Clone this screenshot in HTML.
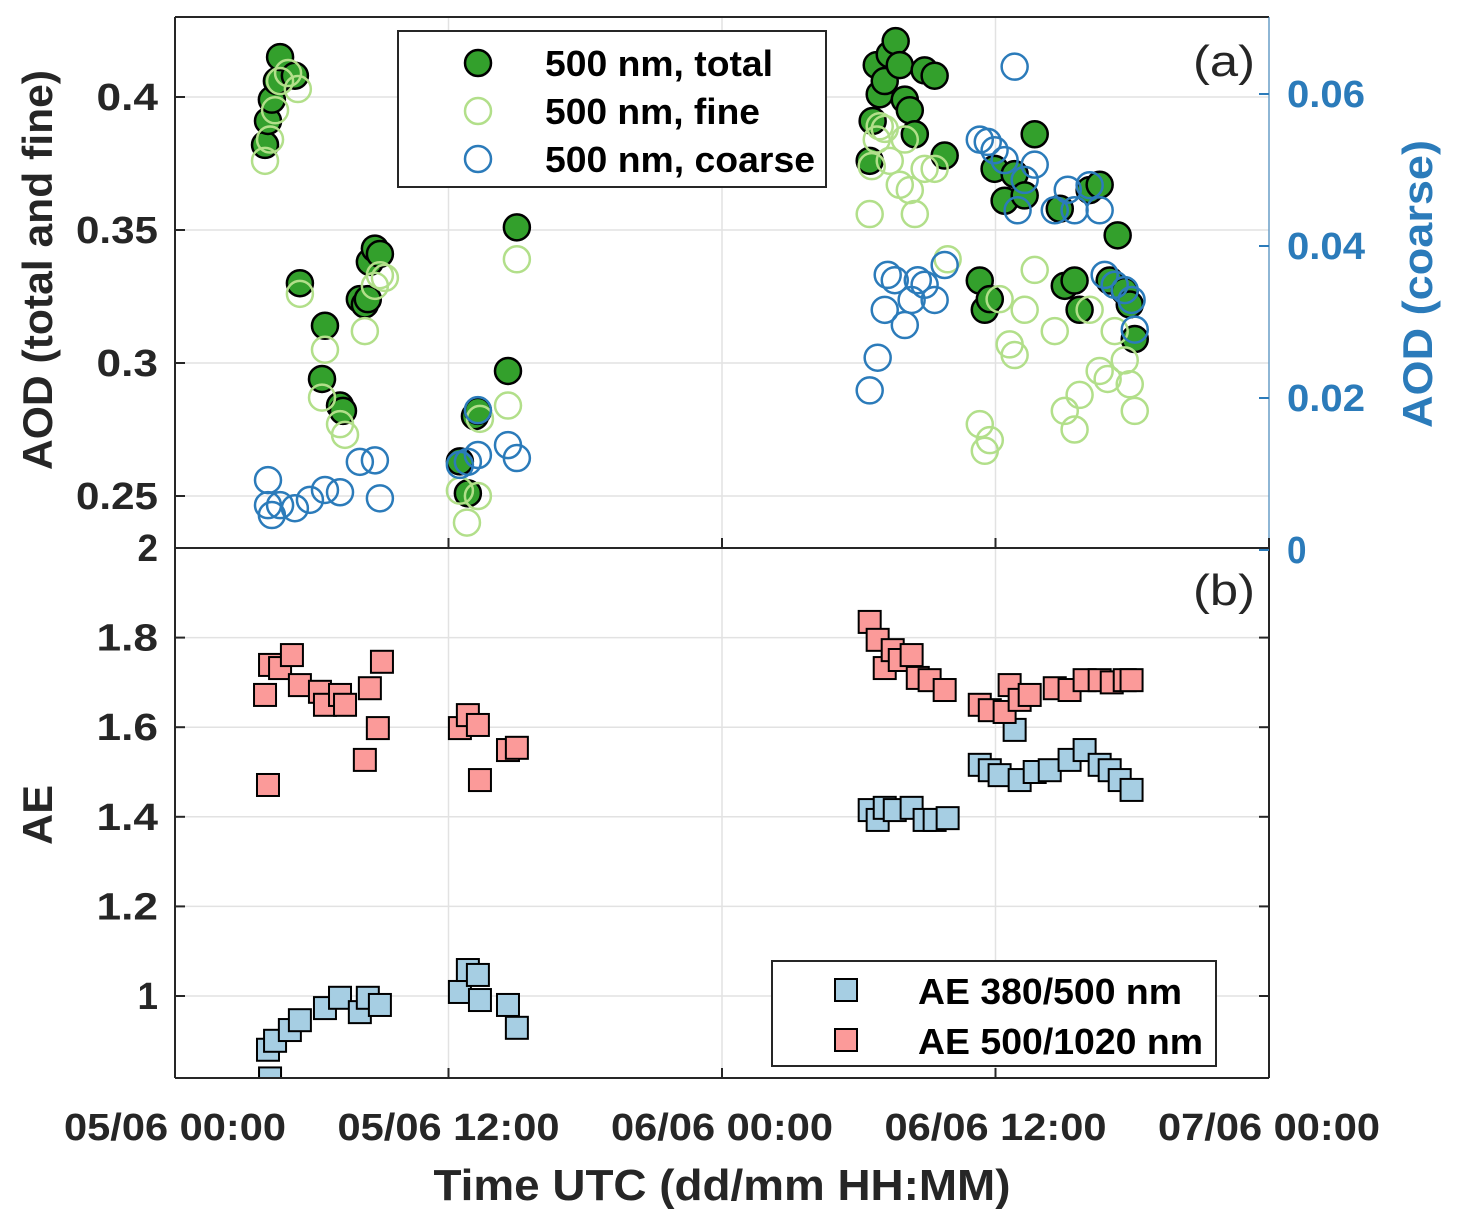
<!DOCTYPE html>
<html><head><meta charset="utf-8"><style>
body{margin:0;background:#fff}
svg text{font-family:"Liberation Sans",Arial,sans-serif}
</style></head><body>
<svg id="chart" width="1457" height="1224" xmlns="http://www.w3.org/2000/svg"></svg>
<script>
// Data (time in hours since 05/06 00:00 UTC)
const totalT=[3.95,4.08,4.25,4.47,4.61,5.26,5.48,6.58,6.45,7.24,7.37,8.11,8.33,8.55,8.77,8.99,8.46,12.5,12.85,13.16,13.29,14.61,15.0,30.48,30.61,30.79,30.92,31.14,31.36,31.62,31.8,32.02,32.24,32.46,32.89,33.33,33.77,35.31,35.53,35.75,35.96,36.4,36.84,37.28,37.72,38.82,39.04,39.47,39.69,40.13,40.57,41.01,41.36,41.67,41.89,42.11];
const totalV=[0.382,0.391,0.399,0.406,0.415,0.408,0.330,0.314,0.294,0.284,0.282,0.324,0.322,0.338,0.343,0.341,0.324,0.263,0.251,0.280,0.282,0.297,0.351,0.376,0.391,0.412,0.401,0.406,0.416,0.421,0.412,0.399,0.395,0.386,0.410,0.408,0.378,0.331,0.320,0.324,0.373,0.361,0.371,0.363,0.386,0.358,0.329,0.331,0.320,0.365,0.367,0.331,0.348,0.327,0.322,0.309];
const fineT=[3.95,4.17,4.39,4.61,4.96,5.39,5.48,6.58,6.45,7.24,7.46,8.33,8.77,8.99,9.21,12.5,12.81,13.29,13.38,14.61,15.0,30.48,30.57,30.79,30.92,31.14,31.36,31.8,32.02,32.24,32.46,32.89,33.33,33.9,35.31,35.53,35.75,36.18,36.62,36.84,37.28,37.72,38.6,39.04,39.47,39.69,40.13,40.57,40.92,41.23,41.67,41.89,42.11];
const fineV=[0.376,0.384,0.395,0.406,0.409,0.403,0.326,0.305,0.287,0.277,0.273,0.312,0.329,0.333,0.332,0.252,0.240,0.250,0.279,0.284,0.339,0.356,0.374,0.384,0.389,0.388,0.376,0.367,0.384,0.365,0.356,0.373,0.373,0.339,0.277,0.267,0.271,0.324,0.307,0.303,0.320,0.335,0.312,0.282,0.275,0.288,0.320,0.297,0.294,0.312,0.301,0.292,0.282];
const coarseT=[4.08,4.08,4.25,4.61,5.26,5.92,6.58,7.24,8.11,8.77,8.99,12.5,12.85,13.29,13.29,14.61,15.0,30.48,30.83,31.14,31.27,31.58,32.02,32.32,32.59,32.89,33.33,33.77,35.31,35.66,35.96,36.4,36.84,36.97,37.28,37.72,38.6,39.17,39.47,40.13,40.57,40.79,41.23,41.67,41.97,42.11];
const coarseV=[0.0092,0.0059,0.0046,0.0059,0.0055,0.0066,0.0079,0.0076,0.0116,0.0118,0.0068,0.0112,0.0116,0.0125,0.0184,0.0138,0.0121,0.021,0.0253,0.0316,0.0362,0.0355,0.0296,0.0329,0.0355,0.0349,0.0329,0.0375,0.054,0.0537,0.0526,0.0513,0.0636,0.0447,0.0487,0.0507,0.0447,0.0474,0.0447,0.048,0.0447,0.0362,0.0349,0.0342,0.0329,0.029];
const ae1T=[4.08,4.17,4.39,5.04,5.48,6.58,7.24,8.11,8.46,8.99,12.5,12.85,13.29,13.38,14.61,15.0,30.48,30.83,31.14,31.58,32.32,32.89,33.33,33.9,35.31,35.75,36.18,36.84,37.06,37.72,38.38,39.25,39.91,40.57,41.01,41.45,41.97];
const ae1V=[0.88,0.816,0.90,0.924,0.946,0.973,0.996,0.964,0.996,0.98,1.009,1.058,1.047,0.991,0.98,0.929,1.415,1.393,1.42,1.415,1.42,1.393,1.393,1.397,1.516,1.504,1.493,1.594,1.482,1.5,1.504,1.527,1.549,1.516,1.504,1.482,1.46];
const ae2T=[3.95,4.08,4.17,4.61,5.13,5.48,6.36,6.58,7.24,7.46,8.33,8.55,8.9,9.08,12.5,12.85,13.29,13.38,14.61,15.0,30.48,30.83,31.14,31.49,31.8,32.32,32.59,33.11,33.77,35.31,35.75,36.4,36.62,37.06,37.5,38.6,39.25,39.91,40.57,41.1,41.67,41.97];
const ae2V=[1.672,1.471,1.739,1.732,1.761,1.694,1.679,1.65,1.672,1.65,1.527,1.687,1.598,1.746,1.598,1.627,1.605,1.482,1.549,1.554,1.835,1.795,1.732,1.772,1.75,1.761,1.71,1.705,1.683,1.65,1.638,1.634,1.694,1.661,1.672,1.687,1.683,1.705,1.705,1.7,1.705,1.705];
const xTickLabels=["05/06 00:00","05/06 12:00","06/06 00:00","06/06 12:00","07/06 00:00"];
const xTickHours=[0,12,24,36,48];
const yTopTicks=[0.25,0.3,0.35,0.4];
const yRightTicks=[0,0.02,0.04,0.06];
const yBotTicks=[1,1.2,1.4,1.6,1.8,2];

const L=175,R=1269,T1=17,B1=548,T2=548,B2=1078;
const xS=h=>L+h*(R-L)/48;
const yTop=v=>97+(0.4-v)*2660;
const yRight=v=>550-v*7600;
const yBot=v=>548+(2-v)*448;
const NS="http://www.w3.org/2000/svg";
const svg=document.getElementById('chart');
function mk(tag,attrs,parent){const e=document.createElementNS(NS,tag);for(const k in attrs)e.setAttribute(k,attrs[k]);(parent||svg).appendChild(e);return e;}
function txt(s,attrs){const e=mk('text',attrs);e.textContent=s;return e;}

const grid=mk('g',{stroke:'#e2e2e2','stroke-width':1.5});


xTickHours.forEach(h=>{mk('line',{x1:xS(h),x2:xS(h),y1:T1,y2:B2},grid);});
yTopTicks.forEach(v=>mk('line',{x1:L,x2:R,y1:yTop(v),y2:yTop(v)},grid));
yBotTicks.forEach(v=>mk('line',{x1:L,x2:R,y1:yBot(v),y2:yBot(v)},grid));

const defs=mk('defs',{});
const c1=mk('clipPath',{id:'c1'},defs);mk('rect',{x:L,y:T1,width:R-L,height:B1-T1},c1);
const c2=mk('clipPath',{id:'c2'},defs);mk('rect',{x:L,y:T2,width:R-L,height:B2-T2},c2);

const gT=mk('g',{'clip-path':'url(#c1)'});


totalT.forEach((t,i)=>{const c=mk('circle',{cx:xS(t),cy:yTop(totalV[i]),r:13,fill:'#33a02c',stroke:'#000','stroke-width':2.5},gT);

});
fineT.forEach((t,i)=>{const c=mk('circle',{cx:xS(t),cy:yTop(fineV[i]),r:13,fill:'none',stroke:'#b2df8a','stroke-width':2.5},gT);

});
coarseT.forEach((t,i)=>{const c=mk('circle',{cx:xS(t),cy:yRight(coarseV[i]),r:13,fill:'none',stroke:'#2b7bba','stroke-width':2.5},gT);

});

const gB=mk('g',{'clip-path':'url(#c2)'});


ae1T.forEach((t,i)=>{const r=mk('rect',{x:xS(t)-11,y:yBot(ae1V[i])-11,width:22,height:22,fill:'#a6cee3',stroke:'#000','stroke-width':2},gB);

});
ae2T.forEach((t,i)=>{const r=mk('rect',{x:xS(t)-11,y:yBot(ae2V[i])-11,width:22,height:22,fill:'#fb9a99',stroke:'#000','stroke-width':2},gB);

});

const ax=mk('g',{stroke:'#262626','stroke-width':2,fill:'none'});


mk('line',{x1:L,x2:R,y1:T1,y2:T1},ax);
mk('line',{x1:L,x2:L,y1:T1,y2:B2},ax);
mk('line',{x1:L,x2:R,y1:B1,y2:B1},ax);
mk('line',{x1:L,x2:R,y1:B2,y2:B2},ax);
mk('line',{x1:R,x2:R,y1:T2,y2:B2},ax);
mk('line',{x1:R,x2:R,y1:T1,y2:B1,stroke:'#2b7bba'});

xTickHours.forEach((h,i)=>{
 mk('line',{x1:xS(h),x2:xS(h),y1:B2,y2:B2-10,stroke:'#262626','stroke-width':2});
 mk('line',{x1:xS(h),x2:xS(h),y1:B1,y2:B1-10,stroke:'#262626','stroke-width':2});
 const t=txt(xTickLabels[i],{x:xS(h),y:1140,'text-anchor':'middle','font-size':38,'font-weight':'bold',fill:'#262626',textLength:222,lengthAdjust:'spacingAndGlyphs'});
 
 
});
yTopTicks.forEach(v=>{
 mk('line',{x1:L,x2:L+10,y1:yTop(v),y2:yTop(v),stroke:'#262626','stroke-width':2});
 const s=String(v);
 const t=txt(s,{x:158,y:yTop(v)+13,'text-anchor':'end','font-size':38,'font-weight':'bold',fill:'#262626',textLength:s.length*20.5,lengthAdjust:'spacingAndGlyphs'});
 
 
});
yRightTicks.forEach(v=>{
 mk('line',{x1:R,x2:R-10,y1:yRight(v),y2:yRight(v),stroke:'#2b7bba','stroke-width':2});
 const s=String(v);
 const t=txt(s,{x:1287,y:yRight(v)+13,'font-size':38,'font-weight':'bold',fill:'#2b7bba',textLength:s.length*19.5,lengthAdjust:'spacingAndGlyphs'});
 
 
});
yBotTicks.forEach(v=>{
 mk('line',{x1:L,x2:L+10,y1:yBot(v),y2:yBot(v),stroke:'#262626','stroke-width':2});
 mk('line',{x1:R,x2:R-10,y1:yBot(v),y2:yBot(v),stroke:'#262626','stroke-width':2});
 const s=String(v);
 const t=txt(s,{x:158,y:yBot(v)+13,'text-anchor':'end','font-size':38,'font-weight':'bold',fill:'#262626',textLength:s.length*20.5,lengthAdjust:'spacingAndGlyphs'});
 
 
});
</script>
<svg style="position:absolute;left:0;top:0" width="1457" height="1224" xmlns="http://www.w3.org/2000/svg">
<text x="722" y="1200" text-anchor="middle" font-size="44" font-weight="bold" fill="#262626" font-family="Liberation Sans, sans-serif" textLength="577" lengthAdjust="spacingAndGlyphs">Time UTC (dd/mm HH:MM)</text>
<text transform="translate(52,270) rotate(-90)" text-anchor="middle" font-size="42" font-weight="bold" fill="#262626" font-family="Liberation Sans, sans-serif" textLength="400" lengthAdjust="spacingAndGlyphs">AOD (total and fine)</text>
<text transform="translate(52,815) rotate(-90)" text-anchor="middle" font-size="42" font-weight="bold" fill="#262626" font-family="Liberation Sans, sans-serif" textLength="60" lengthAdjust="spacingAndGlyphs">AE</text>
<text transform="translate(1432,284) rotate(-90)" text-anchor="middle" font-size="42" font-weight="bold" fill="#2b7bba" font-family="Liberation Sans, sans-serif" textLength="288" lengthAdjust="spacingAndGlyphs">AOD (coarse)</text>
<text x="1193" y="76" font-size="44" fill="#262626" font-family="Liberation Sans, sans-serif" textLength="62" lengthAdjust="spacingAndGlyphs">(a)</text>
<text x="1193" y="605" font-size="44" fill="#262626" font-family="Liberation Sans, sans-serif" textLength="62" lengthAdjust="spacingAndGlyphs">(b)</text>
<g font-family="Liberation Sans, sans-serif" font-size="36" font-weight="bold" fill="#000">
<rect x="398" y="31" width="428" height="156" fill="#fff" stroke="#262626" stroke-width="2"/>
<circle cx="478" cy="63" r="13" fill="#33a02c" stroke="#000" stroke-width="2.5"/>
<circle cx="478" cy="111" r="13" fill="none" stroke="#b2df8a" stroke-width="2.5"/>
<circle cx="478" cy="159" r="13" fill="none" stroke="#2b7bba" stroke-width="2.5"/>
<text x="545" y="76" textLength="228" lengthAdjust="spacingAndGlyphs">500 nm, total</text>
<text x="545" y="124" textLength="215" lengthAdjust="spacingAndGlyphs">500 nm, fine</text>
<text x="545" y="172" textLength="270" lengthAdjust="spacingAndGlyphs">500 nm, coarse</text>
</g>
<g font-family="Liberation Sans, sans-serif" font-size="36" font-weight="bold" fill="#000">
<rect x="772" y="961" width="444" height="105" fill="#fff" stroke="#262626" stroke-width="2"/>
<rect x="835" y="979" width="22" height="22" fill="#a6cee3" stroke="#000" stroke-width="2"/>
<rect x="835" y="1029" width="22" height="22" fill="#fb9a99" stroke="#000" stroke-width="2"/>
<text x="918" y="1004" textLength="264" lengthAdjust="spacingAndGlyphs">AE 380/500 nm</text>
<text x="918" y="1054" textLength="285" lengthAdjust="spacingAndGlyphs">AE 500/1020 nm</text>
</g>
</svg>
</body></html>
